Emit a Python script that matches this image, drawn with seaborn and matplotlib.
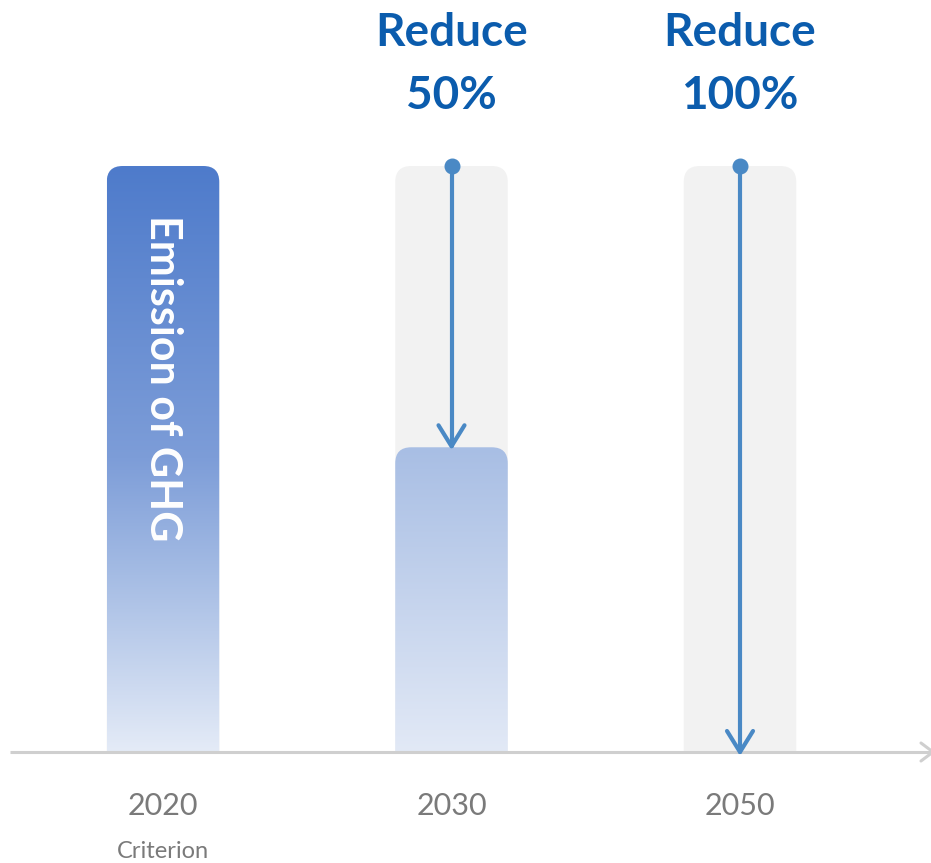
import numpy as np
import pandas as pd
import matplotlib
matplotlib.use("Agg")
import matplotlib.pyplot as plt
import seaborn as sns
from matplotlib.path import Path
from matplotlib.patches import PathPatch
from matplotlib.colors import LinearSegmentedColormap

# ---------------- data ----------------
years = ["2020", "2030", "2050"]
emission = [100, 52, 0]          # remaining emission, % of 2020 (as drawn)
background = [100, 100, 100]     # reference (2020 level)
reduction = [None, 50, 100]      # reduction target, %
sub_labels = ["Criterion", "", ""]
bar_title = "Emission of GHG"

# ---------------- layout helpers ----------------
W, H = 931, 863
PX_X = 288.5     # pixels per category step
PX_Y = 5.86      # pixels per value unit
X0 = 163         # pixel x of first category
Y0 = 111         # pixel y (from bottom) of value 0

def px(xp):      # pixel x -> data x
    return (xp - X0) / PX_X

def py(yp):      # pixel y (from top) -> data y
    return ((H - yp) - Y0) / PX_Y

sns.set_theme(style="white")
plt.rcParams['font.family'] = ['Lato', 'DejaVu Sans']

fig = plt.figure(figsize=(W / 100, H / 100), dpi=100)
ax = fig.add_axes([0, 0, 1, 1])

df = pd.DataFrame({"year": years, "emission": emission, "background": background})
bar_w = 0.39
sns.barplot(data=df, x="year", y="background", color="#f2f2f2", width=bar_w, ax=ax)
n_bg = len(ax.patches)
sns.barplot(data=df, x="year", y="emission", color="#4e7bcb", width=bar_w, ax=ax)

ax.set_xlim(px(0), px(W))
ax.set_ylim(py(H), py(0))
ax.axis("off")

rx = 16 / PX_X
ry = 16 / PX_Y

def rounded_top(x, w, h):
    r_y = min(ry, h / 2)
    verts = [(x, 0), (x, h - r_y), (x, h), (x + rx, h), (x + w - rx, h),
             (x + w, h), (x + w, h - r_y), (x + w, 0), (x, 0)]
    codes = [Path.MOVETO, Path.LINETO, Path.CURVE3, Path.CURVE3, Path.LINETO,
             Path.CURVE3, Path.CURVE3, Path.LINETO, Path.CLOSEPOLY]
    return Path(verts, codes)

cmap_full = LinearSegmentedColormap.from_list(
    "full", [(0, "#e4ebf7"), (0.3, "#a5bce4"), (0.5, "#7d9dd8"), (1.0, "#4e7bcb")])
cmap_half = LinearSegmentedColormap.from_list(
    "half", [(0, "#e2e9f6"), (1.0, "#a8bee4")])

patches = list(ax.patches)
for k, p in enumerate(patches):
    x, w, h = p.get_x(), p.get_width(), p.get_height()
    p.set_visible(False)
    if h <= 0:
        continue
    path = rounded_top(x, w, h)
    if k < n_bg:
        ax.add_patch(PathPatch(path, facecolor="#f2f2f2", edgecolor="none", zorder=1))
    else:
        pp = PathPatch(path, facecolor="none", edgecolor="none", zorder=2)
        ax.add_patch(pp)
        grad = np.linspace(1, 0, 256).reshape(-1, 1)
        cmap = cmap_full if h >= 99 else cmap_half
        im = ax.imshow(grad, extent=[x, x + w, 0, h], aspect="auto", cmap=cmap,
                       vmin=0, vmax=1, zorder=2, interpolation="bicubic")
        im.set_clip_path(pp)

# axis line with arrow
axis_c = "#cfcfcf"
ax.plot([px(10), px(932)], [0, 0], color=axis_c, lw=2.2, zorder=3, solid_capstyle="butt")
ax.plot([px(921), px(933), px(921)], [py(743), 0, py(761)], color=axis_c, lw=2.2,
        zorder=3, solid_capstyle="round", solid_joinstyle="round")

# reduction arrows
arr_c = "#4a89c5"
for i, r in enumerate(reduction):
    if r is None:
        continue
    top = background[i]
    tip = emission[i] + (1 / PX_Y if emission[i] > 0 else 0)
    ax.plot([i, i], [top, tip], color=arr_c, lw=3, zorder=4, solid_capstyle="round")
    ax.plot([i], [top], marker="o", ms=10.5, color=arr_c, mec=arr_c, zorder=5)
    dx, dy = 13 / PX_X, 21 / PX_Y
    ax.plot([i - dx, i, i + dx], [tip + dy, tip, tip + dy], color=arr_c, lw=3,
            zorder=4, solid_capstyle="round", solid_joinstyle="round")
    ax.text(i, py(33), "Reduce", ha="center", va="center", fontsize=33,
            fontweight="bold", color="#0b5cad", zorder=6)
    ax.text(i, py(96), f"{r}%", ha="center", va="center", fontsize=33,
            fontweight="bold", color="#0b5cad", zorder=6)

# text inside 2020 bar
ax.text(0, py(378), bar_title, rotation=-90, ha="center", va="center", fontsize=31,
        fontweight="bold", color="white", zorder=6)

# category labels
for i, (yr, sub) in enumerate(zip(years, sub_labels)):
    ax.text(i, py(806), yr, ha="center", va="center", fontsize=22, color="#7a7a7a", zorder=6)
    if sub:
        ax.text(i, py(851), sub, ha="center", va="center", fontsize=17, color="#7a7a7a", zorder=6)

fig.savefig("out.png", dpi=100)
